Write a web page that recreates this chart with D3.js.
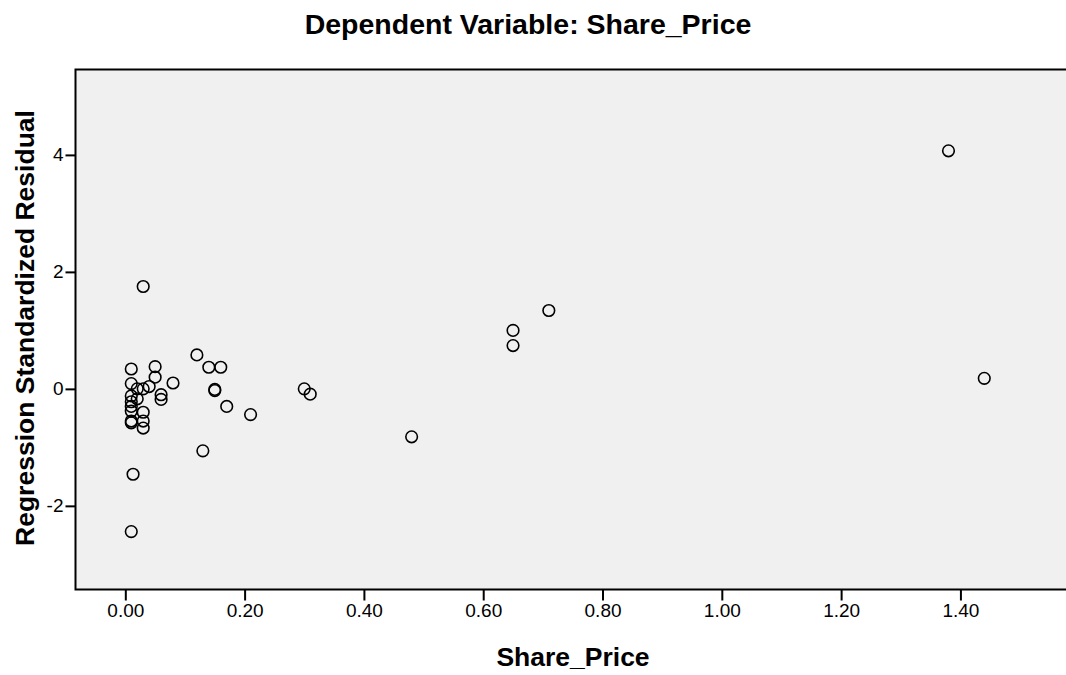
<!DOCTYPE html>
<html>
<head>
<meta charset="utf-8">
<script src="https://cdn.jsdelivr.net/npm/d3@7"></script>
<style>
  body { margin: 0; background: #ffffff; }
  svg { display: block; font-family: "Liberation Sans", Arial, sans-serif; }
</style>
</head>
<body>
<div id="area"></div>
<script>
// observed share price (x) and standardized residual (y)
var sharePrice = [
  0.01, 0.01, 0.01, 0.01, 0.01, 0.01, 0.01, 0.01,
  0.02, 0.02,
  0.03, 0.03, 0.03, 0.03, 0.03,
  0.04, 0.05, 0.05, 0.06, 0.06, 0.08,
  0.013, 0.01,
  0.12, 0.14, 0.16, 0.15, 0.15, 0.17, 0.21, 0.13,
  0.30, 0.31, 0.48, 0.65, 0.65, 0.71, 1.38, 1.44
];
var stdResidual = [
  0.34, 0.09, -0.12, -0.22, -0.30, -0.38, -0.55, -0.58,
  0.00, -0.17,
  0.00, -0.40, -0.55, -0.67, 1.75,
  0.04, 0.38, 0.20, -0.10, -0.18, 0.10,
  -1.46, -2.44,
  0.58, 0.37, 0.37, -0.01, -0.03, -0.30, -0.44, -1.06,
  0.00, -0.09, -0.82, 1.00, 0.74, 1.34, 4.07, 0.18
];
var xTicks = [0, 0.2, 0.4, 0.6, 0.8, 1.0, 1.2, 1.4];
var yTicks = [-2, 0, 2, 4];

var width = 1066, height = 675;
var plot = {left: 75.5, top: 69.5, right: 1066, bottom: 589.5};

var svg = d3.select('#area').append('svg')
    .attr('width', width)
    .attr('height', height);

var x = d3.scaleLinear().domain([-0.0835, 1.577]).range([plot.left, plot.right]);
var y = d3.scaleLinear().domain([-3.43, 5.46]).range([plot.bottom, plot.top]);

// plot background
svg.append('rect')
    .attr('x', plot.left)
    .attr('y', plot.top)
    .attr('width', plot.right - plot.left)
    .attr('height', plot.bottom - plot.top)
    .attr('fill', '#f0f0f0');

// axes
var xAxis = d3.axisBottom(x)
    .tickValues(xTicks)
    .tickFormat(d3.format('.2f'))
    .tickSize(11)
    .tickSizeOuter(0);
var yAxis = d3.axisLeft(y)
    .tickValues(yTicks)
    .tickFormat(d3.format('d'))
    .tickSize(10)
    .tickSizeOuter(0);

var gx = svg.append('g')
    .attr('transform', 'translate(0,' + plot.bottom + ')')
    .call(xAxis);
var gy = svg.append('g')
    .attr('transform', 'translate(' + plot.left + ',0)')
    .call(yAxis);

[gx, gy].forEach(function(g) {
  g.attr('font-size', null).attr('font-family', null);
  g.select('.domain').remove();
  g.selectAll('.tick line').attr('stroke', '#000').attr('stroke-width', 2);
  g.selectAll('.tick text')
      .attr('fill', '#000')
      .style('font-size', '19px')
      .style('font-family', '"Liberation Sans", Arial, sans-serif');
});
gx.selectAll('.tick text').attr('y', 27).attr('dy', 0);
gy.selectAll('.tick text').attr('x', -12).text(function(d) { return d < 0 ? '-' + Math.abs(d) : d; });

// frame: top, left and bottom lines (right side runs off the picture)
svg.append('path')
    .attr('d', 'M' + plot.right + ',' + plot.top + 'H' + plot.left + 'V' + plot.bottom + 'H' + plot.right)
    .attr('fill', 'none')
    .attr('stroke', '#000')
    .attr('stroke-width', 2);

// points
svg.append('g').selectAll('circle')
    .data(d3.range(sharePrice.length))
  .enter().append('circle')
    .attr('cx', function(i) { return x(sharePrice[i]); })
    .attr('cy', function(i) { return y(stdResidual[i]); })
    .attr('r', 5.8)
    .attr('fill', 'none')
    .attr('stroke', '#000')
    .attr('stroke-width', 1.6);

// titles
svg.append('text')
    .attr('x', 528)
    .attr('y', 34)
    .attr('text-anchor', 'middle')
    .style('font-size', '28.5px')
    .style('font-weight', 'bold')
    .text('Dependent Variable: Share_Price');

svg.append('text')
    .attr('x', 573)
    .attr('y', 666)
    .attr('text-anchor', 'middle')
    .style('font-size', '26.5px')
    .style('font-weight', 'bold')
    .text('Share_Price');

svg.append('text')
    .attr('transform', 'translate(34,' + 328 + ') rotate(-90)')
    .attr('text-anchor', 'middle')
    .style('font-size', '26.5px')
    .style('font-weight', 'bold')
    .text('Regression Standardized Residual');
</script>
</body>
</html>
